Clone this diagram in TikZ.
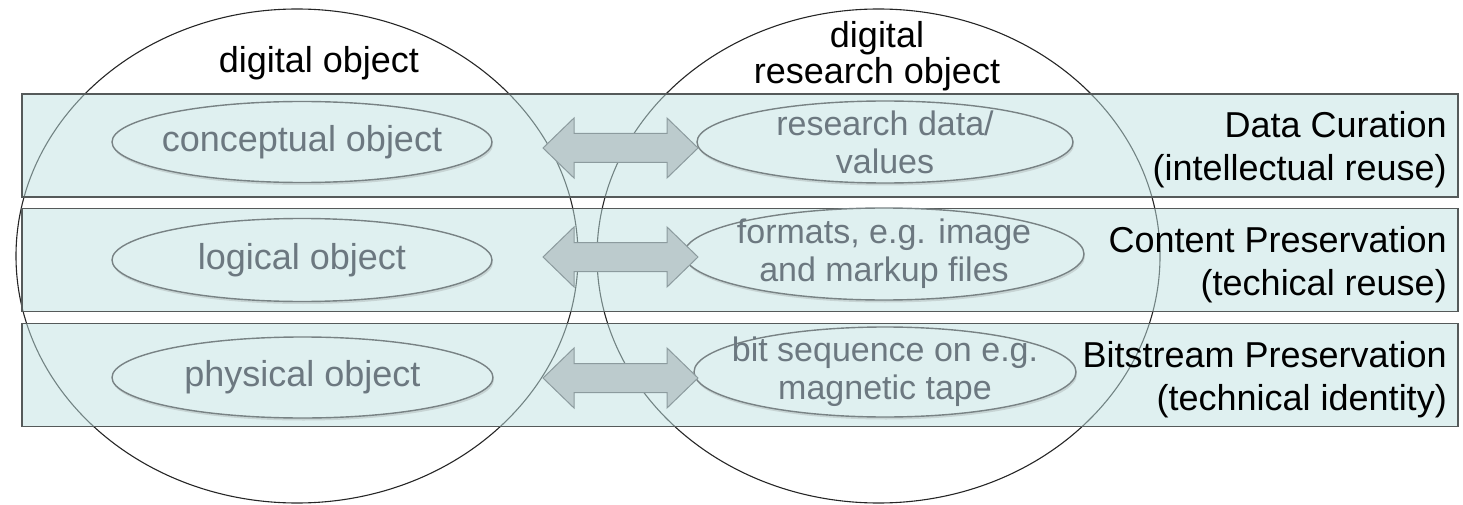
\documentclass[tikz,border=0pt]{standalone}
\usepackage{fontspec}
\setmainfont{Liberation Sans}
\usetikzlibrary{shapes.geometric,shadows}
\definecolor{bandfill}{RGB}{191,225,225}
\definecolor{bandline}{RGB}{85,90,90}
\definecolor{ellfill}{RGB}{223,240,240}
\definecolor{ellline}{RGB}{120,130,132}
\definecolor{elltext}{RGB}{108,120,128}
\definecolor{arrfill}{RGB}{188,203,205}
\definecolor{arrline}{RGB}{140,155,158}
\begin{document}
\begin{tikzpicture}[x=1pt,y=-1pt,
  bigcircle/.style={draw=black!85, line width=1.1pt, ellipse, inner sep=0pt},
  band/.style={draw=bandline, line width=1.4pt, fill=bandfill, fill opacity=0.5, rectangle, inner sep=0pt, minimum width=1436pt, minimum height=103pt},
  obj/.style={ellipse, draw=ellline, line width=1.4pt, fill=ellfill, inner sep=0pt,
    drop shadow={shadow xshift=1pt, shadow yshift=-2.5pt, opacity=0.25}},
  objtext/.style={font=\fontsize{36}{38}\selectfont, text=elltext, align=center, inner sep=0pt},
  objtextb/.style={font=\fontsize{34}{38}\selectfont, text=elltext, align=center, inner sep=0pt},
  lbl/.style={font=\fontsize{36}{36}\selectfont, text=black, align=center, inner sep=0pt},
  layer/.style={font=\fontsize{36}{43}\selectfont, text=black, align=right, inner sep=0pt},
  arrowshape/.style={draw=arrline, fill=arrfill, line width=1pt, line join=miter},
  dblarrow/.pic={\draw[arrowshape] (-77.5,0) -- (-46.5,-30) -- (-46.5,-14.5) -- (46.5,-14.5) -- (46.5,-30) -- (77.5,0) -- (46.5,30) -- (46.5,14.5) -- (-46.5,14.5) -- (-46.5,30) -- cycle;}]
\useasboundingbox (0,0) rectangle (1463,505);
% big circles
\node[bigcircle, minimum width=562pt, minimum height=494pt] (lc) at (297,256) {};
\node[bigcircle, minimum width=563pt, minimum height=494pt] (rc) at (878.5,256) {};
% bands
\node[band] (b1) at (740,145.5) {};
\node[band] (b2) at (740,260) {};
\node[band] (b3) at (740,375) {};
% left ellipses
\node[obj, minimum width=380pt, minimum height=81pt] (e1) at (302,142) {};
\node[obj, minimum width=380pt, minimum height=83pt] (e2) at (302,260) {};
\node[obj, minimum width=381pt, minimum height=81pt] (e3) at (302.5,377.5) {};
% right ellipses
\node[obj, minimum width=376pt, minimum height=82pt] (f1) at (885,142) {};
\node[obj, minimum width=400pt, minimum height=92pt] (f2) at (884,254) {};
\node[obj, minimum width=382pt, minimum height=90pt] (f3) at (885,372) {};
% texts in ellipses
\node[objtext] (te1) at (e1) {conceptual object};
\node[objtext] (te2) at (e2) {logical object};
\node[objtext] (te3) at (e3) {physical object};
\node[objtextb] (tf1) at (f1) {research data/\\values};
\node[objtextb] (tf2) at (f2) {formats, e.g. image\\and markup files};
\node[objtextb] (tf3) at (f3) {bit sequence on e.g.\\magnetic tape};
% arrows
\pic (a1) at (620.5,148) {dblarrow};
\pic (a2) at (620.5,257) {dblarrow};
\pic (a3) at (620.5,378) {dblarrow};
% headings
\node[lbl, anchor=base] (h1) at (319,73) {digital object};
\node[lbl, anchor=base] (h2) at (877,84) {digital\\research object};
% layer labels
\node[layer, anchor=base east] (r1) at (1447,181) {Data Curation\\(intellectual reuse)};
\node[layer, anchor=base east] (r2) at (1447,295) {Content Preservation\\(techical reuse)};
\node[layer, anchor=base east] (r3) at (1447,410) {Bitstream Preservation\\(technical identity)};
\end{tikzpicture}
\end{document}
